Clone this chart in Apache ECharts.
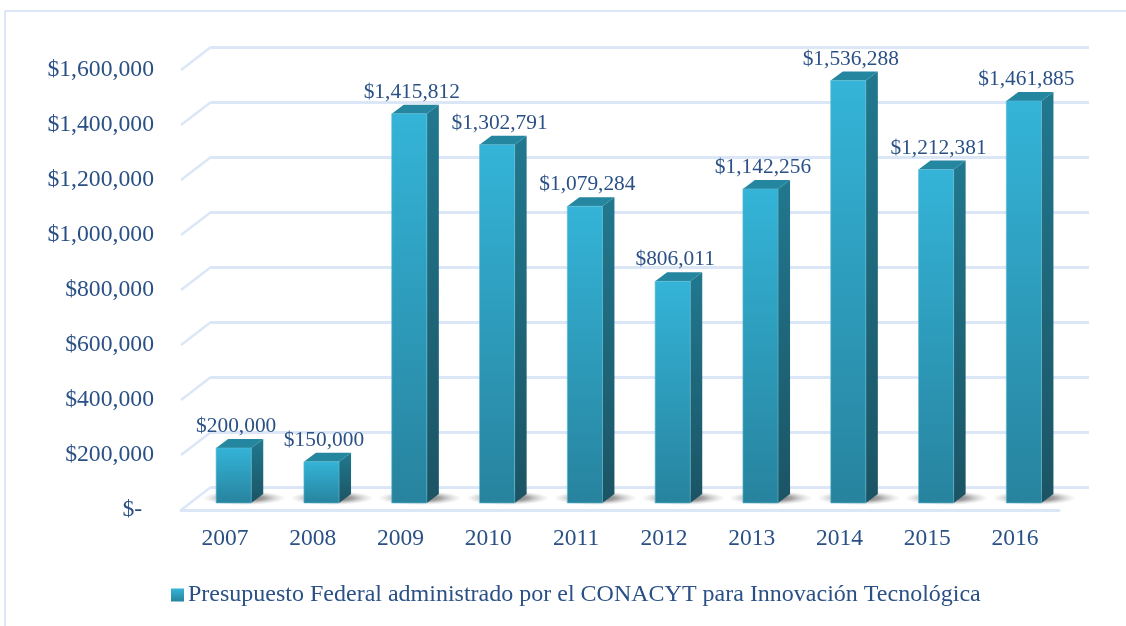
<!DOCTYPE html>
<html>
<head>
<meta charset="utf-8">
<style>
	html, body { margin: 0; padding: 0; background: #fff; }
	#chart { width: 1126px; height: 626px; }
</style>
<script src="https://cdn.jsdelivr.net/npm/echarts@6/dist/echarts.min.js"></script>
</head>
<body>
<div id="chart"></div>
<script>
const years = [ '2007', '2008', '2009', '2010', '2011', '2012', '2013', '2014', '2015', '2016' ];
const budget = [ 200000, 150000, 1415812, 1302791, 1079284, 806011, 1142256, 1536288, 1212381, 1461885 ];
const budgetLabels = [ '$200,000', '$150,000', '$1,415,812', '$1,302,791', '$1,079,284', '$806,011', '$1,142,256', '$1,536,288', '$1,212,381', '$1,461,885' ];
const yTicks = [ 0, 200000, 400000, 600000, 800000, 1000000, 1200000, 1400000, 1600000 ];
const yTickLabels = [ '$-  ', '$200,000', '$400,000', '$600,000', '$800,000', '$1,000,000', '$1,200,000', '$1,400,000', '$1,600,000' ];
const seriesName = 'Presupuesto Federal administrado por el CONACYT para Innovación Tecnológica';

const TEXT = '#2A5086';
const GRID_LINE = '#DBE6F7';
const FONT = '"Liberation Serif", "Times New Roman", serif';

const vGrad = ( top, bottom ) => ( {
	type: 'linear', x: 0, y: 0, x2: 0, y2: 1,
	colorStops: [ { offset: 0, color: top }, { offset: 1, color: bottom } ]
} );

// 3D look: bar sits halfway between the front plane and the back wall
const renderBar = ( params, api ) => {
	const band = api.size( [ 1, 0 ] )[ 0 ];
	const center = api.coord( [ api.value( 0 ), 0 ] )[ 0 ] + band * 0.1;
	const width = band * 0.4;
	const left = center - width / 2;
	const right = left + width;
	const base = api.coord( [ 0, 0 ] )[ 1 ] - 7;
	const top = api.coord( [ 0, api.value( 1 ) ] )[ 1 ] - 7;
	const dx = 12;
	const dy = -9;
	return {
		type: 'group',
		children: [
			{
				type: 'circle',
				shape: { cx: 0, cy: 0, r: 1 },
				x: right - 7,
				y: base - 5,
				scaleX: 42,
				scaleY: 7,
				style: {
					fill: {
						type: 'radial', x: 0.5, y: 0.5, r: 0.5,
						colorStops: [
							{ offset: 0, color: 'rgba(60,60,60,0.85)' },
							{ offset: 0.5, color: 'rgba(90,90,90,0.55)' },
							{ offset: 0.8, color: 'rgba(140,140,140,0.22)' },
							{ offset: 1, color: 'rgba(170,170,170,0)' }
						]
					}
				}
			},
			{
				type: 'polygon',
				shape: { points: [ [ right, top ], [ right + dx, top + dy ], [ right + dx, base + dy ], [ right, base ] ] },
				style: { fill: vGrad( '#21788F', '#1B5464' ) }
			},
			{
				type: 'polygon',
				shape: { points: [ [ left, top ], [ left + dx, top + dy ], [ right + dx, top + dy ], [ right, top ] ] },
				style: { fill: '#25869F' }
			},
			{
				type: 'rect',
				shape: { x: left, y: top, width, height: base - top },
				style: { fill: vGrad( '#34B4D8', '#27839E' ), stroke: '#5FBAD2', lineWidth: 0.6 }
			},
			{
				type: 'text',
				x: center + 2.5,
				y: top + dy - 12.5,
				style: {
					text: budgetLabels[ params.dataIndex ],
					fill: TEXT,
					font: '21.4px ' + FONT,
					align: 'center',
					verticalAlign: 'middle'
				}
			}
		]
	};
};

// short slanted piece of the side wall, from the value tick back to the wall line
const renderWallLine = ( params, api ) => {
	const x = params.coordSys.x;
	const y = api.coord( [ 0, api.value( 0 ) ] )[ 1 ];
	return {
		type: 'line',
		shape: { x1: x, y1: y, x2: x + 30, y2: y - 23 },
		style: { stroke: GRID_LINE, lineWidth: 2.4 }
	};
};

const chart = echarts.init( document.getElementById( 'chart' ), null, { renderer: 'canvas' } );

chart.setOption( {
	animation: false,
	backgroundColor: '#fff',
	textStyle: { fontFamily: FONT },
	graphic: [
		{ type: 'line', shape: { x1: 5, y1: 11, x2: 1126, y2: 11 }, style: { stroke: GRID_LINE, lineWidth: 2 } },
		{ type: 'line', shape: { x1: 5, y1: 11, x2: 5, y2: 626 }, style: { stroke: GRID_LINE, lineWidth: 2 } }
	],
	legend: {
		data: [ seriesName ],
		left: 171,
		top: 583,
		padding: 0,
		icon: 'rect',
		itemWidth: 13,
		itemHeight: 13,
		itemGap: 5,
		textStyle: { color: TEXT, fontSize: 24, fontFamily: FONT, padding: [ 0, 0, 0, -1 ] }
	},
	grid: [
		{ left: 181, right: 67, top: 70, bottom: 116 },
		{ left: 211, right: 37, top: 47, bottom: 139 }
	],
	xAxis: [
		{
			type: 'category',
			data: years,
			gridIndex: 0,
			axisTick: { show: false },
			axisLine: { lineStyle: { color: GRID_LINE, width: 3 } },
			axisLabel: { color: TEXT, fontSize: 23.5, fontFamily: FONT, margin: 17 }
		},
		{
			type: 'category',
			data: years,
			gridIndex: 1,
			show: false
		}
	],
	yAxis: [
		{
			type: 'value',
			gridIndex: 0,
			min: 0,
			max: 1600000,
			interval: 200000,
			splitLine: { show: false },
			axisLine: { show: false },
			axisTick: { show: false },
			axisLabel: {
				color: TEXT,
				fontSize: 23.7,
				fontFamily: FONT,
				margin: 27,
				padding: [ 2, 0, 0, 0 ],
				formatter: ( value ) => yTickLabels[ yTicks.indexOf( value ) ]
			}
		},
		{
			type: 'value',
			gridIndex: 1,
			min: 0,
			max: 1600000,
			interval: 200000,
			axisLine: { show: false },
			axisTick: { show: false },
			axisLabel: { show: false },
			splitLine: { show: true, lineStyle: { color: GRID_LINE, width: 3 } }
		}
	],
	series: [
		{
			type: 'custom',
			name: 'pared',
			xAxisIndex: 0,
			yAxisIndex: 0,
			renderItem: renderWallLine,
			encode: { y: 0 },
			data: yTicks.map( ( v ) => [ v ] ),
			clip: false,
			silent: true,
			z: 1
		},
		{
			type: 'custom',
			name: seriesName,
			xAxisIndex: 0,
			yAxisIndex: 0,
			renderItem: renderBar,
			encode: { x: 0, y: 1 },
			data: budget.map( ( v, i ) => [ i, v ] ),
			clip: false,
			itemStyle: { color: vGrad( '#34B4D8', '#27839E' ) },
			z: 3
		}
	]
} );
</script>
</body>
</html>
